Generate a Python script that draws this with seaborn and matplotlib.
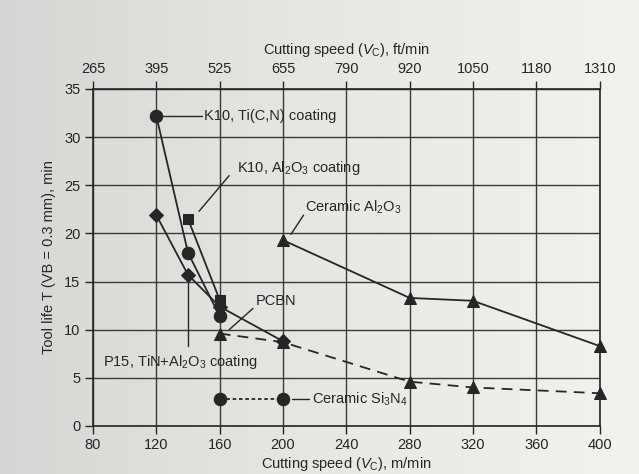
import numpy as np
import matplotlib
matplotlib.use('Agg')
import matplotlib.pyplot as plt
import seaborn as sns
import pandas as pd

# values (tool life vs cutting speed)
ti_cn_speed = [120, 140, 160]
ti_cn_life = [32.2, 18.0, 11.4]

al2o3_coat_speed = [140, 160]
al2o3_coat_life = [21.5, 13.1]

p15_speed = [120, 140, 160, 200]
p15_life = [21.9, 15.7, 12.4, 8.8]

cer_al2o3_speed = [200, 280, 320, 400]
cer_al2o3_life = [19.3, 13.3, 13.0, 8.3]

pcbn_speed = [160, 200, 280, 320, 400]
pcbn_life = [9.6, 8.7, 4.6, 4.0, 3.4]

si3n4_speed = [160, 200]
si3n4_life = [2.8, 2.8]

x_ticks = [80, 120, 160, 200, 240, 280, 320, 360, 400]
ft_labels = ['265', '395', '525', '655', '790', '920', '1050', '1180', '1310']
y_ticks = [0, 5, 10, 15, 20, 25, 30, 35]

sns.set_style('white')
plt.rcParams['font.family'] = ['Liberation Sans', 'DejaVu Sans']
plt.rcParams['mathtext.fontset'] = 'custom'
plt.rcParams['mathtext.rm'] = 'Liberation Sans'
plt.rcParams['mathtext.it'] = 'Liberation Sans:italic'

ink = '#262626'
fig = plt.figure(figsize=(6.39, 4.74), dpi=100)

# paper-like background
bg = fig.add_axes([0, 0, 1, 1], zorder=-5)
grad = np.linspace(0, 1, 256)[None, :]
bg.imshow(grad, aspect='auto', cmap=matplotlib.colors.LinearSegmentedColormap.from_list(
    'paper', ['#d6d6d4', '#e8e7e4', '#f3f2ee']), extent=[0, 1, 0, 1])
bg.axis('off')

ax = fig.add_axes([0.1455, 0.1013, 0.793, 0.711])
ax.patch.set_alpha(0)

ax.set_xlim(80, 400)
ax.set_ylim(0, 35)
ax.set_xticks(x_ticks)
ax.set_yticks(y_ticks)
ax.grid(True, color='#3a3a3a', linewidth=1.0)
ax.set_axisbelow(True)
for s in ax.spines.values():
    s.set_color(ink)
    s.set_linewidth(1.2)
ax.tick_params(direction='out', length=6, width=1.0, color=ink,
               labelsize=10.5, labelcolor=ink, pad=3, left=True, bottom=True)

series = [
    (ti_cn_speed, ti_cn_life, 'o', 9, '-'),
    (al2o3_coat_speed, al2o3_coat_life, 's', 7.5, '-'),
    (p15_speed, p15_life, 'D', 7, '-'),
    (cer_al2o3_speed, cer_al2o3_life, '^', 9, '-'),
    (pcbn_speed, pcbn_life, '^', 9, (0, (6, 4))),
    (si3n4_speed, si3n4_life, 'o', 9, (0, (2, 1.5))),
]
for xs, ys, mk, ms, ls in series:
    df = pd.DataFrame({'speed': xs, 'life': ys})
    sns.lineplot(data=df, x='speed', y='life', ax=ax, color=ink, linewidth=1.3,
                 linestyle=ls, marker=mk, markersize=ms, markeredgecolor=ink,
                 markerfacecolor=ink, sort=False, zorder=3, clip_on=False)

ax.set_xlim(80, 400)
ax.set_ylim(0, 35)
ax.set_xlabel(r'Cutting speed ($\mathit{V}_\mathrm{C}$), m/min', fontsize=10.5, color=ink, labelpad=2)
ax.set_ylabel('Tool life T (VB = 0.3 mm), min', fontsize=10.5, color=ink, labelpad=6)

# top axis in ft/min
top = ax.secondary_xaxis('top')
top.set_xticks(x_ticks)
top.set_xticklabels(ft_labels)
top.tick_params(direction='out', length=6, width=1.0, color=ink, labelsize=10.5,
                labelcolor=ink, pad=3)
top.set_xlabel(r'Cutting speed ($\mathit{V}_\mathrm{C}$), ft/min', fontsize=10.5, color=ink, labelpad=6)

# labels with leader lines
lw = 1.0
ax.plot([124, 149], [32.2, 32.2], color=ink, lw=lw)
ax.text(150, 32.2, 'K10, Ti(C,N) coating', fontsize=10.5, color=ink, va='center')

ax.plot([166, 147], [26.0, 22.3], color=ink, lw=lw)
ax.text(171, 26.8, r'K10, Al$_2$O$_3$ coating', fontsize=10.5, color=ink, va='center')

ax.plot([213, 205], [21.9, 19.9], color=ink, lw=lw)
ax.text(214, 22.7, r'Ceramic Al$_2$O$_3$', fontsize=10.5, color=ink, va='center')

ax.plot([181, 166], [12.2, 10.0], color=ink, lw=lw)
ax.text(183, 13.0, 'PCBN', fontsize=10.5, color=ink, va='center')

ax.plot([140, 140], [14.8, 8.3], color=ink, lw=lw)
ax.text(86.5, 6.6, r'P15, TiN+Al$_2$O$_3$ coating', fontsize=10.5, color=ink, va='center')

ax.plot([206, 216.5], [2.8, 2.8], color=ink, lw=lw)
ax.text(218, 2.8, r'Ceramic Si$_3$N$_4$', fontsize=10.5, color=ink, va='center')

fig.savefig('out.png', dpi=100)
